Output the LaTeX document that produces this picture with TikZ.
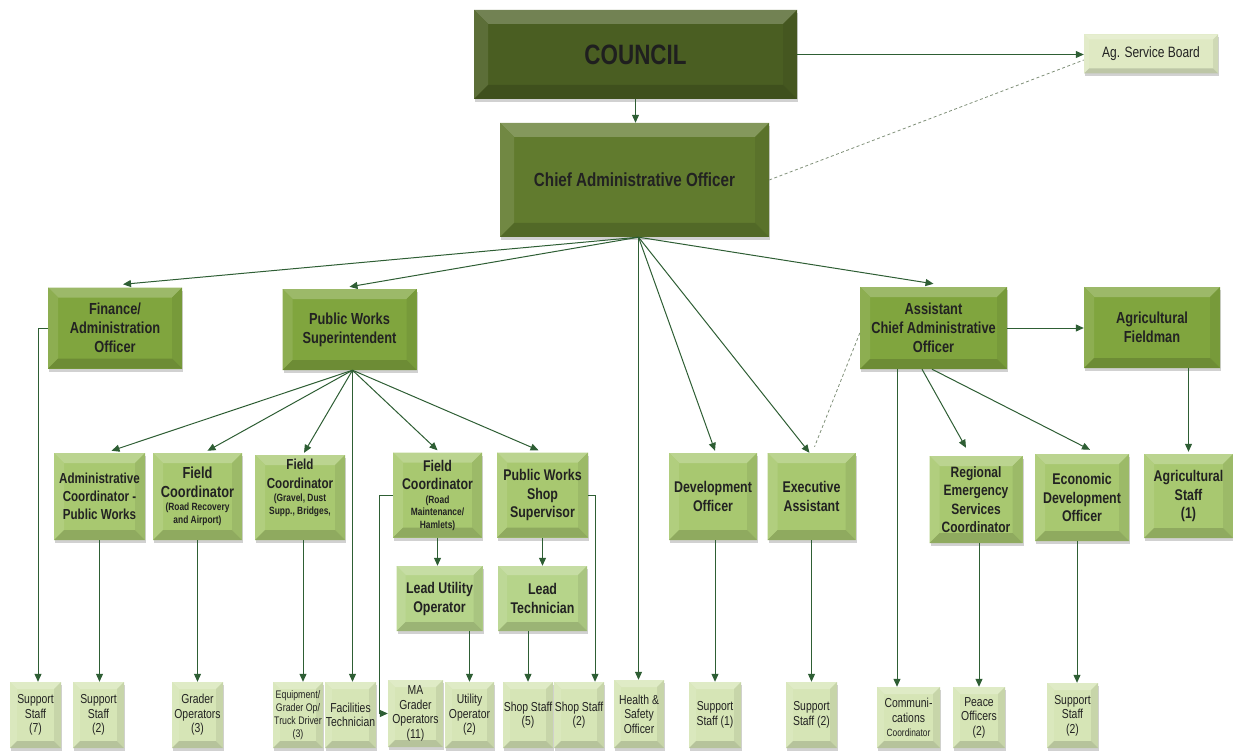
\documentclass[tikz,border=0pt]{standalone}
\usepackage{fontspec}
\setmainfont{Liberation Sans}[FakeStretch=0.8]
\usetikzlibrary{arrows.meta,shadows,calc}
\definecolor{lc}{HTML}{2E5E34}
\definecolor{cA}{HTML}{4A5E22}
\definecolor{cB}{HTML}{617B2E}
\definecolor{cC}{HTML}{80A53E}
\definecolor{cD}{HTML}{A8C870}
\definecolor{cE}{HTML}{B6D48A}
\definecolor{cF}{HTML}{D6E5B6}
\definecolor{cG}{HTML}{DFE9C3}
\definecolor{txt}{HTML}{222222}
\definecolor{dsh}{HTML}{7F8F78}
\newcommand\fz[2]{\fontsize{#1}{#2}\selectfont}
\def\bv{10}
\newcommand\bevelit[1]{%
 \fill[#1!78!white] (path picture bounding box.north west) -- (path picture bounding box.north east) -- ([shift={(-\bv,\bv)}]path picture bounding box.north east) -- ([shift={(\bv,\bv)}]path picture bounding box.north west) -- cycle;
 \fill[#1!90!white] (path picture bounding box.north west) -- ([shift={(\bv,\bv)}]path picture bounding box.north west) -- ([shift={(\bv,-\bv)}]path picture bounding box.south west) -- (path picture bounding box.south west) -- cycle;
 \fill[#1!93!black] (path picture bounding box.north east) -- ([shift={(-\bv,\bv)}]path picture bounding box.north east) -- ([shift={(-\bv,-\bv)}]path picture bounding box.south east) -- (path picture bounding box.south east) -- cycle;
 \fill[#1!85!black] (path picture bounding box.south west) -- ([shift={(\bv,-\bv)}]path picture bounding box.south west) -- ([shift={(-\bv,-\bv)}]path picture bounding box.south east) -- (path picture bounding box.south east) -- cycle;
}
\tikzset{
  bev/.code={\def\bv{#1}},
  base/.style={inner sep=0pt, align=center, text=txt,
    drop shadow={shadow xshift=1pt, shadow yshift=-3pt, opacity=.3, fill=black!60}},
  bx/.style={base, fill=#1, path picture={\bevelit{#1}}},
  rtwo/.style={bx=cC, bev=10, font=\fz{16}{19}\bfseries},
  rthree/.style={bx=cD, bev=10, font=\fz{15.5}{18.5}\bfseries},
  rlead/.style={bx=cE, bev=9, font=\fz{15.5}{19}\bfseries},
  rbot/.style={bx=cF, bev=7, font=\fz{13}{14.5}},
  ln/.style={draw=lc, line width=1pt},
  arr/.style={ln, -{Triangle[length=8pt,width=7pt]}},
  dsl/.style={draw=dsh, line width=0.8pt, dash pattern=on 3pt off 2.5pt},
}
\begin{document}
\begin{tikzpicture}[x=1pt,y=-1pt]
\useasboundingbox (0,0) rectangle (1233,751);
% top
\node[bx=cA, bev=14, minimum width=323, minimum height=89, font=\fz{28}{32}\bfseries, text=black!88] (council) at (635.5,54.5) {COUNCIL};
\node[bx=cG, bev=5, minimum width=134, minimum height=39, font=\fz{15}{17}] (agsb) at (1151,54) {Ag. Service Board};
\node[bx=cB, bev=14, minimum width=269, minimum height=114, font=\fz{19}{22}\bfseries] (cao) at (634.5,180) {Chief Administrative Officer};
% row 2
\node[rtwo, minimum width=134, minimum height=81] (fin) at (115,328) {Finance/\\Administration\\Officer};
\node[rtwo, minimum width=134, minimum height=81] (pws) at (349.5,329.5) {Public Works\\Superintendent};
\node[rtwo, minimum width=147, minimum height=82] (acao) at (933.5,328) {Assistant\\Chief Administrative\\Officer};
\node[rtwo, minimum width=136, minimum height=81] (agf) at (1152,327.5) {Agricultural\\Fieldman};
% row 3
\node[rthree, minimum width=91, minimum height=87, font=\fz{14.5}{18}\bfseries] (adc) at (99.5,496.5) {Administrative\\Coordinator -\\Public Works};
\node[rthree, minimum width=89, minimum height=87] (fc1) at (197.5,496.5) {\fz{16}{19}Field\\\fz{16}{19}Coordinator\\[-5pt]{\fz{10.5}{12.5}(Road Recovery}\\[-6pt]{\fz{10.5}{12.5}and Airport)}};
\node[rthree, minimum width=90, minimum height=85] (fc2) at (300,497.5) {\fz{14.5}{17}Field\\\fz{14.5}{17}Coordinator\\[-5pt]{\fz{10.5}{12.5}(Gravel, Dust}\\[-6pt]{\fz{10.5}{12.5}Supp., Bridges,}\\[3pt]};
\node[rthree, minimum width=89, minimum height=85] (fc3) at (437.5,495) {Field\\Coordinator\\[-5pt]{\fz{10.5}{12.5}(Road}\\[-6pt]{\fz{10.5}{12.5}Maintenance/}\\[-6pt]{\fz{10.5}{12.5}Hamlets)}};
\node[rthree, minimum width=91, minimum height=85] (pwss) at (542.5,495) {Public Works\\Shop\\Supervisor};
\node[rthree, minimum width=88, minimum height=87] (dev) at (713,496.5) {Development\\Officer};
\node[rthree, minimum width=88, minimum height=87] (exa) at (811.5,496.5) {Executive\\Assistant};
\node[rthree, minimum width=93, minimum height=87, font=\fz{15}{18.5}\bfseries] (resc) at (976,499.5) {Regional\\Emergency\\Services\\Coordinator};
\node[rthree, minimum width=94, minimum height=87] (edo) at (1082,497.5) {Economic\\Development\\Officer};
\node[rthree, minimum width=89, minimum height=84] (ags) at (1188.5,496) {Agricultural\\Staff\\(1)};
% row 4
\node[rlead, minimum width=86, minimum height=65] (lut) at (439.5,598.5) {Lead Utility\\Operator};
\node[rlead, minimum width=89, minimum height=65] (ltech) at (542.5,598.5) {Lead\\Technician};
% bottom row
\node[rbot, minimum width=51, minimum height=66] (ss7) at (35.5,715) {Support\\Staff\\(7)};
\node[rbot, minimum width=51, minimum height=66] (ss2a) at (98.5,715) {Support\\Staff\\(2)};
\node[rbot, minimum width=51, minimum height=66] (gro) at (197.5,715) {Grader\\Operators\\(3)};
\node[rbot, minimum width=50, minimum height=66, font=\fz{11}{13}] (eq) at (298,715) {Equipment/\\Grader Op/\\Truck Driver\\(3)};
\node[rbot, minimum width=51, minimum height=66] (fac) at (350.5,715) {Facilities\\Technician};
\node[rbot, minimum width=55, minimum height=67] (mag) at (415.5,713.5) {MA\\Grader\\Operators\\(11)};
\node[rbot, minimum width=49, minimum height=66] (uop) at (469.5,715) {Utility\\Operator\\(2)};
\node[rbot, minimum width=50, minimum height=66] (sh5) at (528,715) {Shop Staff\\(5)};
\node[rbot, minimum width=50, minimum height=66] (sh2) at (579,715) {Shop Staff\\(2)};
\node[rbot, minimum width=50, minimum height=68] (hso) at (639,714) {Health \&\\Safety\\Officer};
\node[rbot, minimum width=52, minimum height=66] (ss1) at (715,715) {Support\\Staff (1)};
\node[rbot, minimum width=51, minimum height=66] (ss2b) at (811.5,715) {Support\\Staff (2)};
\node[rbot, minimum width=63, minimum height=61] (comm) at (908.5,717.5) {Communi-\\cations\\{\fz{10.5}{12}Coordinator}};
\node[rbot, minimum width=52, minimum height=61] (peace) at (979,717.5) {Peace\\Officers\\(2)};
\node[rbot, minimum width=51, minimum height=65] (ss2c) at (1072.5,715.5) {Support\\Staff\\(2)};
% connectors: top
\draw[arr] (council.south) -- (council.south |- cao.north);
\draw[arr] (council.east) -- (council.east -| agsb.west);
\draw[dsl] (cao.east) -- ([yshift=-6pt]agsb.west);
% CAO fan
\coordinate (cf) at ([xshift=4pt]cao.south);
\draw[arr] (cf) -- ([xshift=8pt,yshift=3pt]fin.north);
\draw[arr] (cf) -- ([yshift=2pt]pws.north);
\draw[arr] (cf) -- (cf |- hso.north);
\draw[arr] (cf) -- ([xshift=2pt,yshift=2pt]dev.north);
\draw[arr] (cf) -- ([xshift=-2pt]exa.north);
\draw[arr] (cf) -- ([yshift=3pt]acao.north);
% PWS fan
\coordinate (pf) at ([xshift=3pt]pws.south);
\draw[arr] (pf) -- ([xshift=12pt,yshift=2pt]adc.north);
\draw[arr] (pf) -- ([xshift=10pt,yshift=2pt]fc1.north);
\draw[arr] (pf) -- ([xshift=4pt,yshift=2pt]fc2.north);
\draw[arr] (pf) -- (pf |- fac.north);
\draw[arr] (pf) -- ([yshift=2pt]fc3.north);
\draw[arr] (pf) -- ([xshift=-4pt,yshift=2pt]pwss.north);
% finance elbow
\coordinate (s7) at ([xshift=2.5pt]ss7.north);
\draw[arr] (fin.west) -| (s7);
% row 3 downs
\draw[arr] (adc.south) -- (adc.south |- ss2a.north);
\draw[arr] (fc1.south) -- (fc1.south |- gro.north);
\coordinate (f2) at ([xshift=3pt]fc2.south);
\draw[arr] (f2) -- (f2 |- eq.north);
\draw[arr] (fc3.west) -- ++(-13,0) |- (mag.west);
\draw[arr] (fc3.south) -- (fc3.south |- lut.north);
\draw[arr] (uop.north |- lut.south) -- (uop.north);
\draw[arr] (pwss.south) -- (pwss.south |- ltech.north);
\draw[arr] (sh5.north |- ltech.south) -- (sh5.north);
\coordinate (s2) at ([xshift=16pt]sh2.north);
\draw[arr] (pwss.east) -| (s2);
\draw[arr] (ss1.north |- dev.south) -- (ss1.north);
\draw[arr] (exa.south) -- (exa.south |- ss2b.north);
% ACAO
\draw[dsl] ([yshift=-5pt]acao.west) -- ([xshift=3pt,yshift=6pt]exa.north);
\draw[arr] (acao.east) -- (acao.east -| agf.west);
\coordinate (a1) at ([xshift=-36.5pt]acao.south);
\draw[arr] (a1) -- (a1 |- comm.north);
\draw[arr] ([xshift=-11.5pt]acao.south) -- ([xshift=-10pt,yshift=8pt]resc.north);
\draw[arr] ([xshift=-1.5pt]acao.south) -- ([xshift=8pt,yshift=4pt]edo.north);
\draw[arr] (ags.north |- agf.south) -- ([yshift=2pt]ags.north);
\draw[arr] (peace.north |- resc.south) -- (peace.north);
\coordinate (e1) at ([xshift=-5pt]edo.south);
\draw[arr] (e1) -- (e1 |- ss2c.north);
\end{tikzpicture}
\end{document}
